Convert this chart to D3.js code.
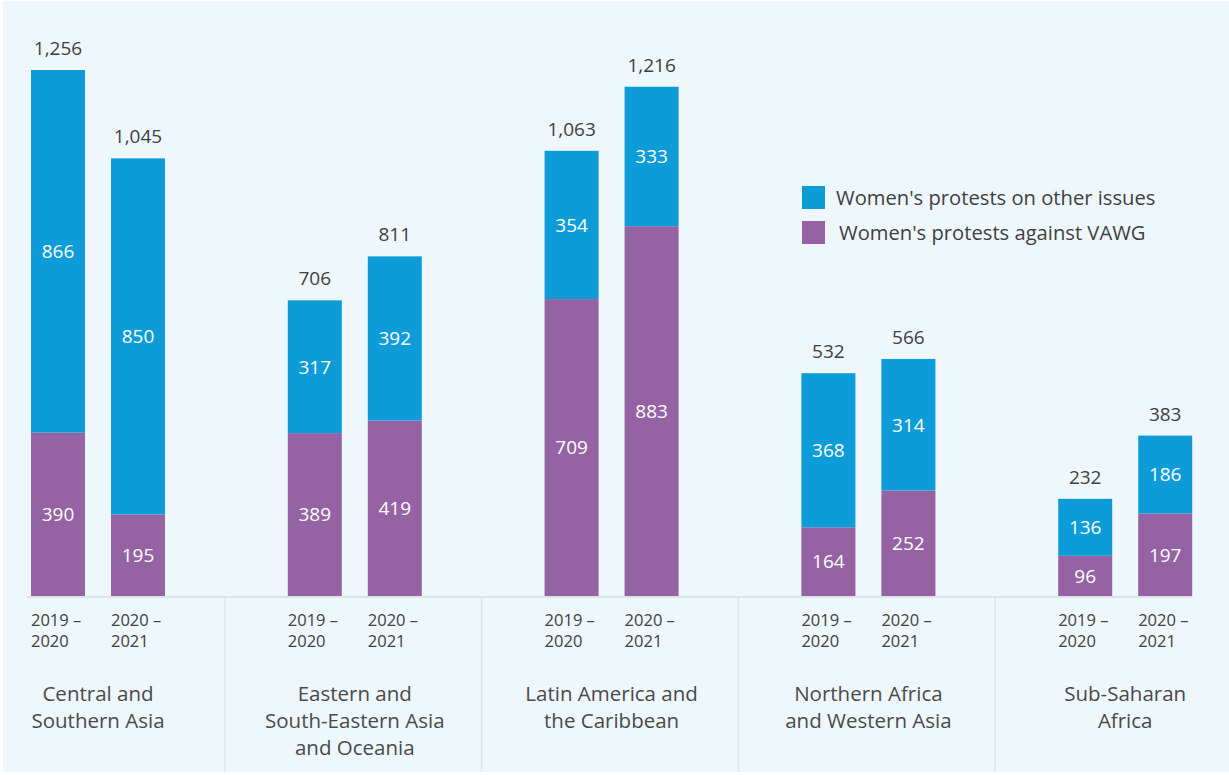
<!DOCTYPE html>
<html>
<head>
<meta charset="utf-8">
<script src="https://cdn.jsdelivr.net/npm/d3@7"></script>
<style>
  html, body { margin: 0; padding: 0; background: #ffffff; }
  svg { display: block; }
  text { font-family: "Open Sans", Lato, sans-serif; }
</style>
</head>
<body>
<svg id="chart" width="1229" height="775"></svg>
<script>
// Regions (x-axis groups), each split over two reporting periods
const regions = [
  ["Central and", "Southern Asia"],
  ["Eastern and", "South-Eastern Asia", "and Oceania"],
  ["Latin America and", "the Caribbean"],
  ["Northern Africa", "and Western Asia"],
  ["Sub-Saharan", "Africa"]
];
const periods = [["2019 –", "2020"], ["2020 –", "2021"]];

// Women's protests against VAWG, per region: [2019–2020, 2020–2021]
const vawg = [
  [390, 195],
  [389, 419],
  [709, 883],
  [164, 252],
  [96, 197]
];
// Women's protests on other issues, per region: [2019–2020, 2020–2021]
const otherIssues = [
  [866, 850],
  [317, 392],
  [354, 333],
  [368, 314],
  [136, 186]
];

const seriesNames = ["Women's protests on other issues", "Women's protests against VAWG"];
const colors = { other: "#0e9cd8", vawg: "#9563a4" };

const svg = d3.select("#chart");
const W = 1229, H = 775;

// panel background
svg.append("rect")
  .attr("x", 3).attr("y", 1)
  .attr("width", W - 3).attr("height", H - 4)
  .attr("fill", "#edf7fc");

const regionKeys = regions.map((r, i) => i);
const periodKeys = periods.map((p, i) => i);

const x0 = d3.scaleBand().domain(regionKeys).range([-32, 1252]).paddingInner(0).paddingOuter(0);
const x1 = d3.scaleBand().domain(periodKeys).range([63, 197]).paddingInner(0.325).paddingOuter(0);

const totals = vawg.map((row, i) => row.map((v, j) => v + otherIssues[i][j]));
const y = d3.scaleLinear().domain([0, d3.max(totals.flat())]).range([596, 70]);

// flatten to one record per bar
const bars = [];
regionKeys.forEach(i => periodKeys.forEach(j => {
  bars.push({ r: i, p: j, vawg: vawg[i][j], other: otherIssues[i][j], total: totals[i][j] });
}));
const bx = d => x0(d.r) + x1(d.p);
const bw = x1.bandwidth();

// group separators
const sepG = svg.append("g");
regionKeys.slice(1).forEach(i => {
  sepG.append("line")
    .attr("x1", x0(i)).attr("x2", x0(i))
    .attr("y1", y(0)).attr("y2", 772)
    .attr("stroke", "#dfe7ea").attr("stroke-width", 1.5);
});

// baseline
svg.append("line")
  .attr("x1", bx(bars[0]) - 4)
  .attr("x2", bx(bars[bars.length - 1]) + bw)
  .attr("y1", y(0) + 1).attr("y2", y(0) + 1)
  .attr("stroke", "#dde4e8").attr("stroke-width", 2);

const barG = svg.append("g");
// VAWG segment (bottom)
barG.selectAll("rect.vawg").data(bars).join("rect")
  .attr("class", "vawg")
  .attr("x", bx).attr("width", bw)
  .attr("y", d => y(d.vawg))
  .attr("height", d => y(0) - y(d.vawg))
  .attr("fill", colors.vawg);
// other-issues segment (top)
barG.selectAll("rect.other").data(bars).join("rect")
  .attr("class", "other")
  .attr("x", bx).attr("width", bw)
  .attr("y", d => y(d.total))
  .attr("height", d => y(d.vawg) - y(d.total))
  .attr("fill", colors.other);

// segment values
const fmt = d3.format(",");
barG.selectAll("text.vv").data(bars).join("text")
  .attr("x", d => bx(d) + bw / 2)
  .attr("y", d => (y(0) + y(d.vawg)) / 2)
  .attr("dy", "0.36em")
  .attr("text-anchor", "middle")
  .attr("fill", "#ffffff")
  .attr("font-size", 19)
  .text(d => fmt(d.vawg));
barG.selectAll("text.ov").data(bars).join("text")
  .attr("x", d => bx(d) + bw / 2)
  .attr("y", d => (y(d.vawg) + y(d.total)) / 2)
  .attr("dy", "0.36em")
  .attr("text-anchor", "middle")
  .attr("fill", "#ffffff")
  .attr("font-size", 19)
  .text(d => fmt(d.other));
// totals
barG.selectAll("text.tot").data(bars).join("text")
  .attr("x", d => bx(d) + bw / 2)
  .attr("y", d => y(d.total) - 15)
  .attr("text-anchor", "middle")
  .attr("fill", "#404040")
  .attr("font-size", 19)
  .text(d => fmt(d.total));

// period labels under each bar
const tickG = svg.append("g");
bars.forEach(d => {
  const t = tickG.append("text")
    .attr("x", bx(d))
    .attr("fill", "#404040")
    .attr("font-size", 16.5);
  periods[d.p].forEach((line, k) => {
    t.append("tspan").attr("x", bx(d)).attr("y", 626 + k * 21).text(line);
  });
});

// region labels
const regG = svg.append("g");
regionKeys.forEach(i => {
  const cx = x0(i) + (x1.range()[0] + x1.range()[1]) / 2;
  const t = regG.append("text")
    .attr("text-anchor", "middle")
    .attr("fill", "#4a4a4a")
    .attr("font-size", 20.5);
  regions[i].forEach((line, k) => {
    t.append("tspan").attr("x", cx).attr("y", 701 + k * 27).text(line);
  });
});

// legend
const legend = svg.append("g");
const legendItems = [
  { name: seriesNames[0], color: colors.other },
  { name: seriesNames[1], color: colors.vawg }
];
legendItems.forEach((item, k) => {
  const ly = 186 + k * 35;
  legend.append("rect")
    .attr("x", 802).attr("y", ly)
    .attr("width", 23).attr("height", 23)
    .attr("fill", item.color);
  legend.append("text")
    .attr("x", 836 + k * 3).attr("y", ly + 19)
    .attr("fill", "#404040")
    .attr("font-size", 20.2)
    .text(item.name);
});
</script>
</body>
</html>
